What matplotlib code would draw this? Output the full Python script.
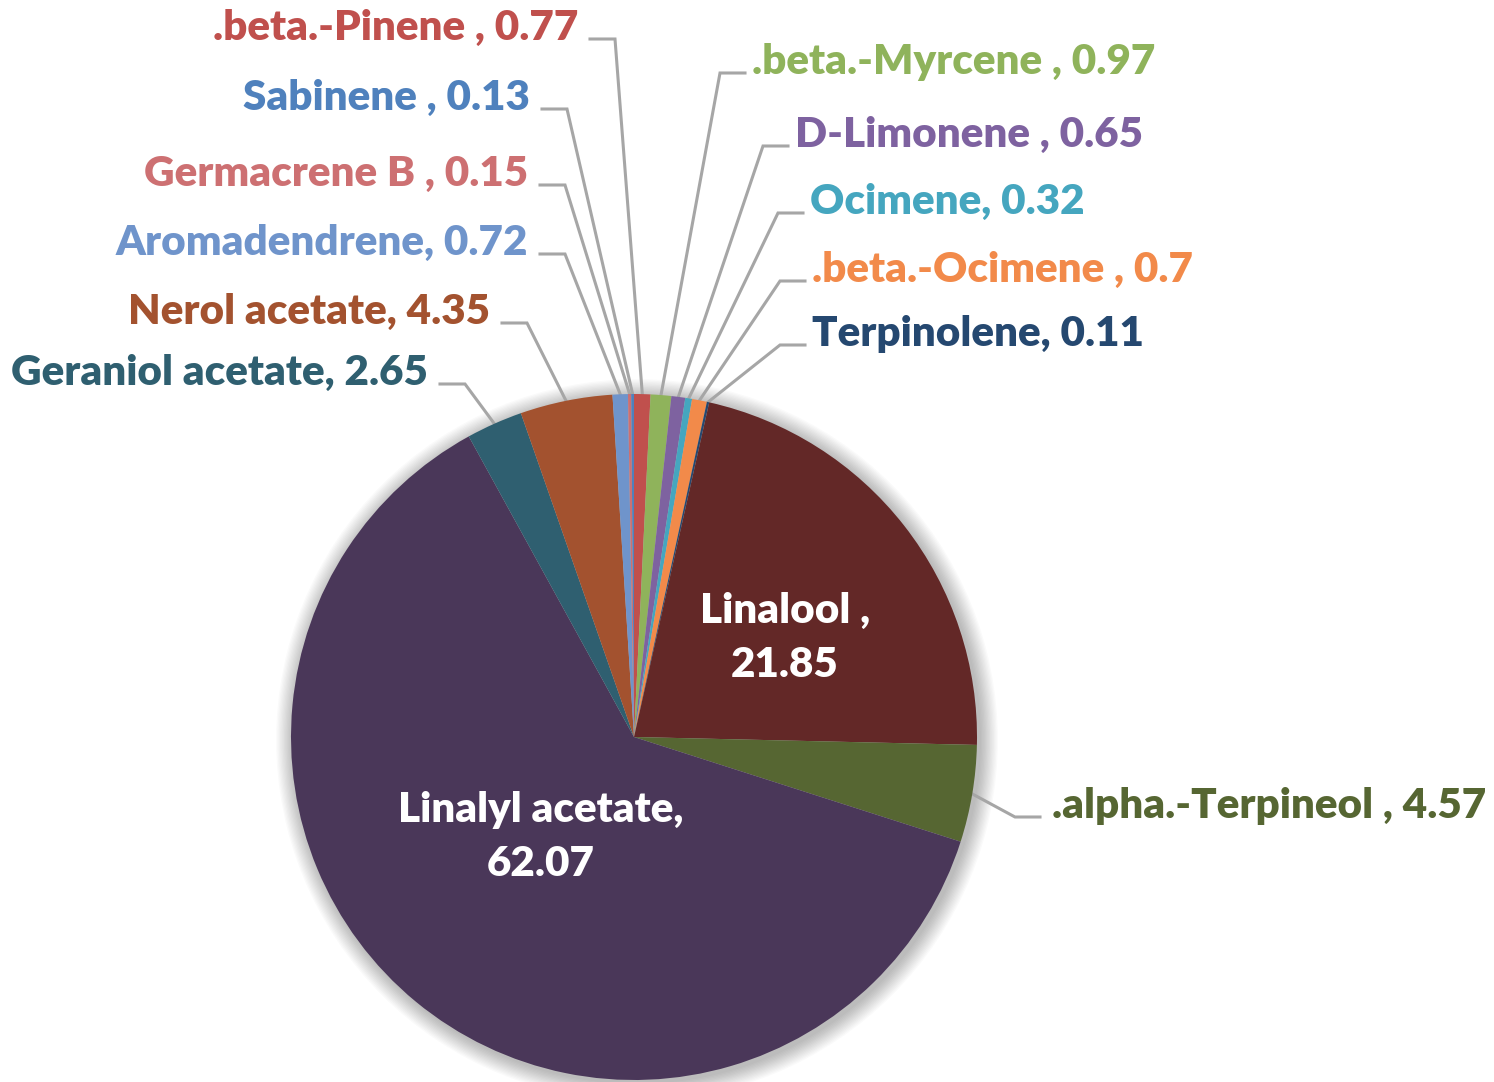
import numpy as np
import matplotlib
matplotlib.use("Agg")
import matplotlib.pyplot as plt
from matplotlib.patches import Circle

# data, clockwise from 12 o'clock
names = [".beta.-Pinene ", ".beta.-Myrcene ", "D-Limonene ", "Ocimene", ".beta.-Ocimene ",
         "Terpinolene", "Linalool ", ".alpha.-Terpineol ", "Linalyl acetate",
         "Geraniol acetate", "Nerol acetate", "Aromadendrene", "Germacrene B ", "Sabinene "]
values = [0.77, 0.97, 0.65, 0.32, 0.7, 0.11, 21.85, 4.57, 62.07, 2.65, 4.35, 0.72, 0.15, 0.13]
value_text = ["0.77", "0.97", "0.65", "0.32", "0.7", "0.11", "21.85", "4.57", "62.07",
              "2.65", "4.35", "0.72", "0.15", "0.13"]
colors = ["#C0504D", "#8FB35B", "#7E62A0", "#45A6BF", "#F28A4A", "#254870", "#632827",
          "#566632", "#4A3759", "#2F5F70", "#A3522F", "#6F94CB", "#CD7072", "#4F81BD"]

# label layout in pixels (x of text edge, y of text centre from top, side)
label_pos = {
    0: (578, 28, "L"), 13: (530, 98, "L"), 12: (528, 174, "L"), 11: (528, 243, "L"),
    10: (490, 312, "L"), 9: (428, 373, "L"),
    1: (752, 62, "R"), 2: (795, 135, "R"), 3: (810, 202, "R"), 4: (812, 270, "R"),
    5: (812, 334, "R"), 7: (1052, 806, "R"),
}
inside_pos = {6: (785, 638), 8: (541, 837)}

W, H = 1494, 1082
plt.rcParams['font.family'] = ['Lato', 'DejaVu Sans']
fig = plt.figure(figsize=(W / 100, H / 100), dpi=100)
ax = fig.add_axes([0, 0, 1, 1])

cx, cy, R = 634, H - 737, 343

# soft shadow behind the pie
for i in range(14):
    ax.add_patch(Circle((cx + 3, cy - 3), R + 1 + i * 1.3, color="black",
                        alpha=0.018, lw=0, zorder=0))

wedges, _ = ax.pie(values, colors=colors, startangle=90, counterclock=False,
                   center=(cx, cy), radius=R, wedgeprops=dict(linewidth=0))
for w in wedges:
    w.set_zorder(2)

ax.set_xlim(0, W)
ax.set_ylim(0, H)
ax.set_aspect("equal")
ax.axis("off")

fs = 30.3
fw = "heavy"
line_col = "#A6A6A6"
for i, (tx, ty, side) in label_pos.items():
    w = wedges[i]
    mid = np.deg2rad((w.theta1 + w.theta2) / 2)
    sx, sy = cx + R * np.cos(mid), cy + R * np.sin(mid)
    ly = H - ty - 11
    if side == "L":
        x_far, x_near = tx + 37, tx + 12
        ha = "right"
    else:
        x_far, x_near = tx - 32, tx - 7
        ha = "left"
    if i == 7:
        x_far, x_near = tx - 37, tx - 12
    ax.plot([sx, x_far, x_near], [sy, ly, ly], color=line_col, lw=2.2,
            solid_joinstyle="miter", zorder=1)
    ax.text(tx, H - ty, names[i] + ", " + value_text[i], ha=ha, va="center",
            fontsize=fs, fontweight=fw, color=colors[i])

for i, (tx, ty) in inside_pos.items():
    ax.text(tx, H - ty, names[i] + ",\n" + value_text[i], ha="center", va="center",
            fontsize=fs, fontweight=fw, color="white", linespacing=1.5, zorder=3)

fig.savefig("out.png", dpi=100, facecolor="white")
